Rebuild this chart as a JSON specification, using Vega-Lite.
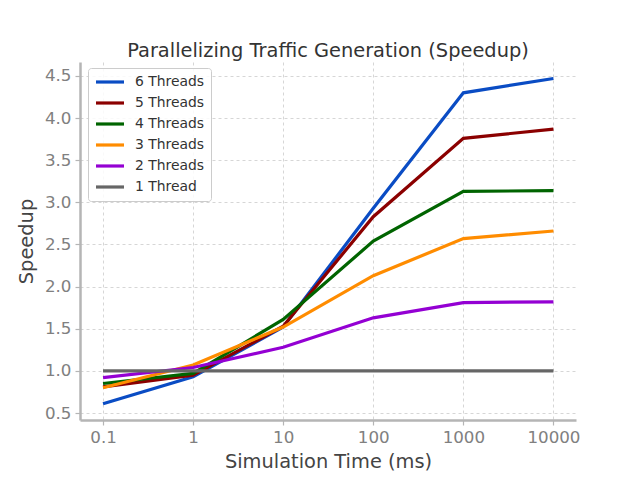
{
  "$schema": "https://vega.github.io/schema/vega-lite/v6.json",
  "autosize": "none",
  "width": 496,
  "height": 358,
  "padding": {"left": 80, "top": 62, "right": 64, "bottom": 60},
  "background": "white",
  "title": {"text": "Parallelizing Traffic Generation (Speedup)", "font": "DejaVu Sans", "fontSize": 19.4, "fontWeight": "normal", "color": "#333333", "offset": 1, "anchor": "middle"},
  "config": {
    "view": {"stroke": null},
    "font": "DejaVu Sans",
    "axis": {
      "domainColor": "#b5b5b5", "domainWidth": 2.5, "tickColor": "#b5b5b5", "tickSize": 5, "tickWidth": 1.2,
      "gridColor": "#cccccc", "gridDash": [3, 3], "gridWidth": 0.8,
      "labelFont": "DejaVu Sans", "labelFontSize": 16.7, "labelColor": "#808080", "labelPadding": 4,
      "titleFont": "DejaVu Sans", "titleFontSize": 19.4, "titleFontWeight": "normal", "titleColor": "#444444"
    },
    "legend": {
      "labelFont": "DejaVu Sans", "labelFontSize": 13.9, "labelColor": "#333333"
    }
  },
  "data": {"values": [
    {"threads": "6 Threads", "time": 0.1, "speedup": 0.61},
    {"threads": "6 Threads", "time": 1, "speedup": 0.93},
    {"threads": "6 Threads", "time": 10, "speedup": 1.52},
    {"threads": "6 Threads", "time": 100, "speedup": 2.93},
    {"threads": "6 Threads", "time": 1000, "speedup": 4.30},
    {"threads": "6 Threads", "time": 10000, "speedup": 4.47},
    {"threads": "5 Threads", "time": 0.1, "speedup": 0.81},
    {"threads": "5 Threads", "time": 1, "speedup": 0.95},
    {"threads": "5 Threads", "time": 10, "speedup": 1.53},
    {"threads": "5 Threads", "time": 100, "speedup": 2.83},
    {"threads": "5 Threads", "time": 1000, "speedup": 3.76},
    {"threads": "5 Threads", "time": 10000, "speedup": 3.87},
    {"threads": "4 Threads", "time": 0.1, "speedup": 0.85},
    {"threads": "4 Threads", "time": 1, "speedup": 0.97},
    {"threads": "4 Threads", "time": 10, "speedup": 1.61},
    {"threads": "4 Threads", "time": 100, "speedup": 2.54},
    {"threads": "4 Threads", "time": 1000, "speedup": 3.13},
    {"threads": "4 Threads", "time": 10000, "speedup": 3.14},
    {"threads": "3 Threads", "time": 0.1, "speedup": 0.80},
    {"threads": "3 Threads", "time": 1, "speedup": 1.07},
    {"threads": "3 Threads", "time": 10, "speedup": 1.52},
    {"threads": "3 Threads", "time": 100, "speedup": 2.13},
    {"threads": "3 Threads", "time": 1000, "speedup": 2.57},
    {"threads": "3 Threads", "time": 10000, "speedup": 2.66},
    {"threads": "2 Threads", "time": 0.1, "speedup": 0.92},
    {"threads": "2 Threads", "time": 1, "speedup": 1.04},
    {"threads": "2 Threads", "time": 10, "speedup": 1.28},
    {"threads": "2 Threads", "time": 100, "speedup": 1.63},
    {"threads": "2 Threads", "time": 1000, "speedup": 1.81},
    {"threads": "2 Threads", "time": 10000, "speedup": 1.82},
    {"threads": "1 Thread", "time": 0.1, "speedup": 1.0},
    {"threads": "1 Thread", "time": 1, "speedup": 1.0},
    {"threads": "1 Thread", "time": 10, "speedup": 1.0},
    {"threads": "1 Thread", "time": 100, "speedup": 1.0},
    {"threads": "1 Thread", "time": 1000, "speedup": 1.0},
    {"threads": "1 Thread", "time": 10000, "speedup": 1.0}
  ]},
  "mark": {"type": "line", "strokeWidth": 3.2, "clip": true},
  "encoding": {
    "x": {
      "field": "time", "type": "quantitative",
      "scale": {"type": "log", "domain": [0.0555, 17800], "nice": false},
      "axis": {"values": [0.1, 1, 10, 100, 1000, 10000], "format": "~g", "title": "Simulation Time (ms)", "titlePadding": 7}
    },
    "y": {
      "field": "speedup", "type": "quantitative",
      "scale": {"domain": [0.417, 4.666], "nice": false, "zero": false},
      "axis": {"values": [0.5, 1.0, 1.5, 2.0, 2.5, 3.0, 3.5, 4.0, 4.5], "format": ".1f", "title": "Speedup", "titlePadding": 8}
    },
    "color": {
      "field": "threads", "type": "nominal",
      "scale": {
        "domain": ["6 Threads", "5 Threads", "4 Threads", "3 Threads", "2 Threads", "1 Thread"],
        "range": ["#0a4cc4", "#8b0000", "#006400", "#ff8c00", "#9400d3", "#666666"]
      },
      "legend": {
        "title": null, "orient": "none", "legendX": 8, "legendY": 6,
        "symbolType": "stroke", "symbolSize": 784, "symbolStrokeWidth": 3.2,
        "clipHeight": 16, "rowPadding": 5, "padding": 6, "labelOffset": 9,
        "strokeColor": "#cccccc", "fillColor": "rgba(255,255,255,0.85)", "cornerRadius": 3
      }
    },
    "order": {"value": 0}
  }
}
